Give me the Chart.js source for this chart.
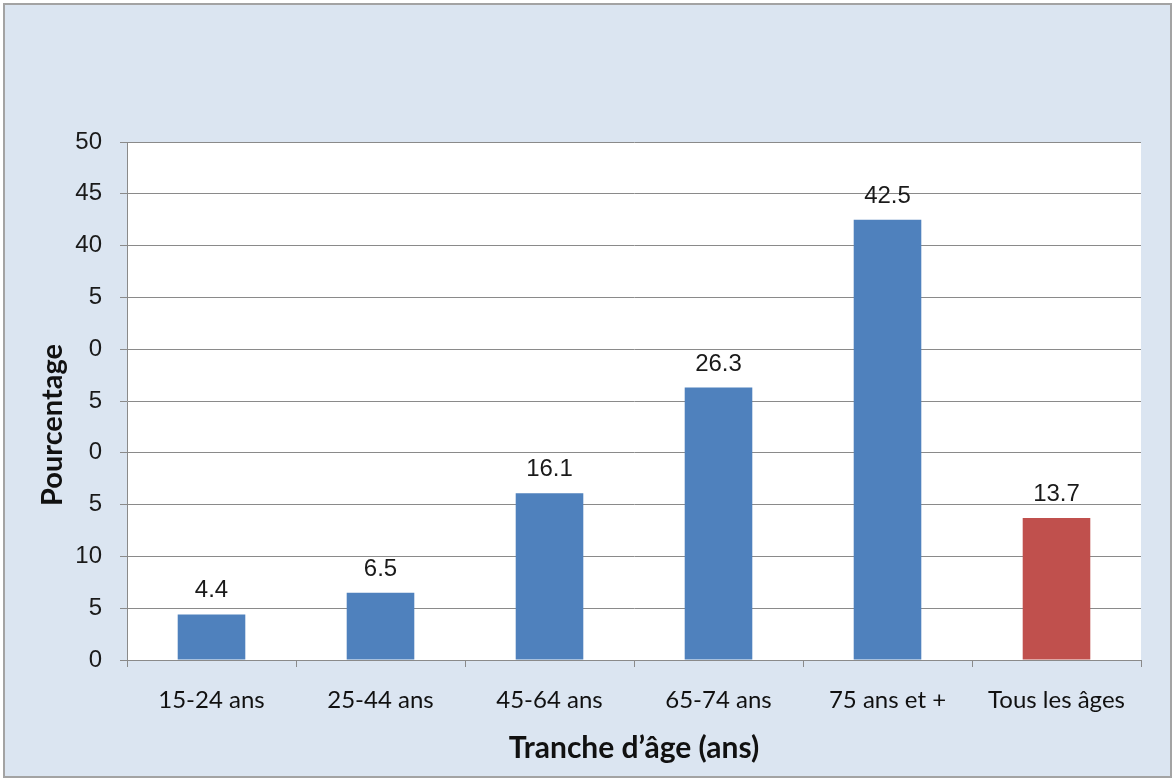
<!DOCTYPE html>
<html lang="fr">
<head>
<meta charset="utf-8">
<title>Pourcentage par tranche d'âge</title>
<script src="https://cdn.jsdelivr.net/npm/chart.js@4/dist/chart.umd.min.js"></script>
<style>
  html, body { margin: 0; padding: 0; background: #ffffff; }
  #wrap { width: 1175px; height: 782px; position: relative; }
  canvas { display: block; }
</style>
</head>
<body>
<div id="wrap"><canvas id="chart" width="1175" height="782"></canvas></div>
<script>
// Age groups and their percentages
const categories = ['15-24 ans', '25-44 ans', '45-64 ans', '65-74 ans', '75 ans et +', 'Tous les âges'];
const percentages = [4.4, 6.5, 16.1, 26.3, 42.5, 13.7];
// Y axis tick text, bottom to top (0 .. 50 by 5)
const yTickLabels = ['0', '5', '10', '5', '0', '5', '0', '5', '40', '45', '50'];

const xTitle = 'Tranche d’âge (ans)';
const yTitle = 'Pourcentage';

const BLUE = '#4f81bd';
const RED = '#c0504d';
const GRID = '#8a8a8a';
const barColors = categories.map((c, i) => i === categories.length - 1 ? RED : BLUE);

// Frame, panel background and white plot area
const backdrop = {
  id: 'backdrop',
  beforeDraw(chart) {
    const { ctx, chartArea: a } = chart;
    ctx.save();
    ctx.fillStyle = '#ffffff';
    ctx.fillRect(0, 0, chart.width, chart.height);
    ctx.fillStyle = '#dbe5f1';
    ctx.fillRect(4, 4, 1167, 773);
    ctx.strokeStyle = '#a3a3a3';
    ctx.lineWidth = 2;
    ctx.strokeRect(4, 4, 1167, 773);
    ctx.fillStyle = '#ffffff';
    ctx.fillRect(a.left, a.top, a.right - a.left, a.bottom - a.top);
    ctx.restore();
  }
};

// Vertical axis title, set a little below the middle of the plot area
const yAxisTitle = {
  id: 'yAxisTitle',
  afterDraw(chart) {
    const { ctx, chartArea: a } = chart;
    ctx.save();
    ctx.translate(53, (a.top + a.bottom) / 2 + 24);
    ctx.rotate(-Math.PI / 2);
    ctx.font = 'bold 29px Lato, sans-serif';
    ctx.fillStyle = '#111111';
    ctx.textAlign = 'center';
    ctx.textBaseline = 'middle';
    ctx.fillText(yTitle, 0, 0);
    ctx.restore();
  }
};

// Value written above each bar
const valueLabels = {
  id: 'valueLabels',
  afterDatasetsDraw(chart) {
    const { ctx } = chart;
    const meta = chart.getDatasetMeta(0);
    ctx.save();
    ctx.font = '24px "Liberation Sans", Arial, sans-serif';
    ctx.fillStyle = '#1a1a1a';
    ctx.textAlign = 'center';
    ctx.textBaseline = 'alphabetic';
    meta.data.forEach((bar, i) => {
      ctx.fillText(percentages[i].toFixed(1), bar.x, bar.y - 17);
    });
    ctx.restore();
  }
};

new Chart(document.getElementById('chart'), {
  type: 'bar',
  data: {
    labels: categories,
    datasets: [{
      data: percentages,
      backgroundColor: barColors,
      borderWidth: 0,
      categoryPercentage: 1,
      barPercentage: 0.4
    }]
  },
  options: {
    responsive: false,
    animation: false,
    devicePixelRatio: 1,
    layout: { padding: { top: 142, right: 34, bottom: 0, left: 0 } },
    plugins: {
      legend: { display: false },
      tooltip: { enabled: false }
    },
    scales: {
      x: {
        afterFit(scale) { scale.height = 122; },
        grid: {
          offset: true,
          drawOnChartArea: false,
          drawTicks: true,
          tickLength: 7,
          color: GRID,
          lineWidth: 1
        },
        border: { display: true, color: GRID, width: 1 },
        ticks: {
          padding: 19,
          color: '#111111',
          font: { family: 'Lato', size: 24 },
          maxRotation: 0,
          autoSkip: false
        },
        title: {
          display: true,
          text: xTitle,
          color: '#111111',
          font: { family: 'Lato', size: 30, weight: 'bold' },
          padding: { top: 0, bottom: 16 }
        }
      },
      y: {
        min: 0,
        max: 50,
        afterFit(scale) { scale.width = 127; },
        grid: {
          drawOnChartArea: true,
          drawTicks: true,
          tickLength: 7,
          color: GRID,
          lineWidth: 1
        },
        border: { display: true, color: GRID, width: 1 },
        ticks: {
          stepSize: 5,
          padding: 18,
          color: '#1a1a1a',
          font: { family: '"Liberation Sans", Arial, sans-serif', size: 24 },
          callback: (value, index) => yTickLabels[index]
        },
        title: { display: false }
      }
    }
  },
  plugins: [backdrop, valueLabels, yAxisTitle]
});
</script>
</body>
</html>
